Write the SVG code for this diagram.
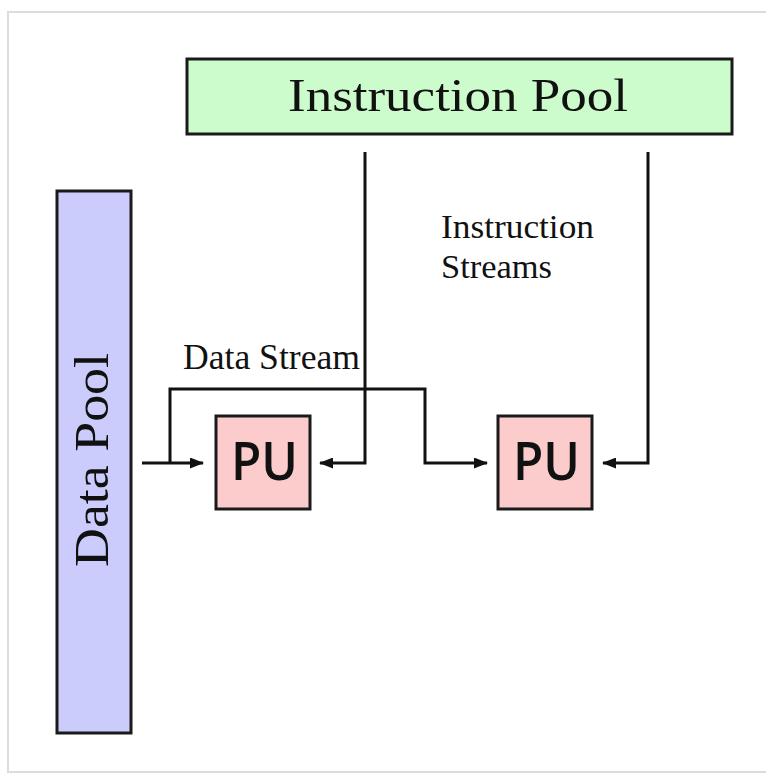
<svg xmlns="http://www.w3.org/2000/svg" width="766" height="776" viewBox="0 0 766 776">
  <style>
    .frame { fill: none; stroke: #dcdcdc; stroke-width: 2; }
    .box { stroke: #1a1a1a; stroke-width: 3; }
    .serif { font-family: "Liberation Serif", "Times New Roman", serif; fill: #111; }
    .pu { font-family: "Open Sans", "Liberation Sans", sans-serif; font-size: 53px; font-weight: 600; fill: #111; }
    .wire { fill: none; stroke: #111; stroke-width: 3; }
  </style>
  <defs>
    <marker id="arrow" viewBox="0 0 14 11" refX="13" refY="5.5" markerWidth="14" markerHeight="11" markerUnits="userSpaceOnUse" orient="auto">
      <path d="M0,0 L14,5.5 L0,11 Z" fill="#111"/>
    </marker>
  </defs>

  <rect width="766" height="776" fill="#ffffff"/>
  <!-- outer frame -->
  <rect class="frame" x="8" y="12" width="780" height="760"/>

  <g id="instruction-pool">
    <rect class="box" x="187" y="59" width="545" height="75" fill="#ccfccc"/>
    <text class="serif" x="288" y="111" font-size="46" textLength="340" lengthAdjust="spacingAndGlyphs">Instruction Pool</text>
  </g>

  <g id="data-pool">
    <rect class="box" x="57" y="191" width="74" height="542" fill="#ccccfc"/>
    <text class="serif" transform="translate(108,567) rotate(-90)" font-size="48" textLength="214" lengthAdjust="spacingAndGlyphs">Data Pool</text>
  </g>

  <g id="pu-1">
    <rect class="box" x="216" y="416" width="94" height="93" fill="#fccccc"/>
    <text class="pu" x="231" y="480" textLength="67" lengthAdjust="spacingAndGlyphs">PU</text>
  </g>

  <g id="pu-2">
    <rect class="box" x="498" y="416" width="94" height="93" fill="#fccccc"/>
    <text class="pu" x="513" y="480" textLength="67" lengthAdjust="spacingAndGlyphs">PU</text>
  </g>

  <g id="connectors">
    <!-- data stream into the first PU -->
    <path class="wire" d="M142,463 H203" marker-end="url(#arrow)"/>
    <!-- data stream branch to the second PU -->
    <path class="wire" d="M170,463 V389 H425 V463 H487" marker-end="url(#arrow)"/>
    <!-- instruction streams -->
    <path class="wire" d="M365,152 V463 H320" marker-end="url(#arrow)"/>
    <path class="wire" d="M648,152 V463 H603" marker-end="url(#arrow)"/>
  </g>

  <g id="labels">
    <text class="serif" x="441" y="238" font-size="34" textLength="153" lengthAdjust="spacingAndGlyphs">Instruction</text>
    <text class="serif" x="441" y="278" font-size="34" textLength="111" lengthAdjust="spacingAndGlyphs">Streams</text>
    <text class="serif" x="183" y="369" font-size="35" textLength="177" lengthAdjust="spacingAndGlyphs">Data Stream</text>
  </g>
</svg>
